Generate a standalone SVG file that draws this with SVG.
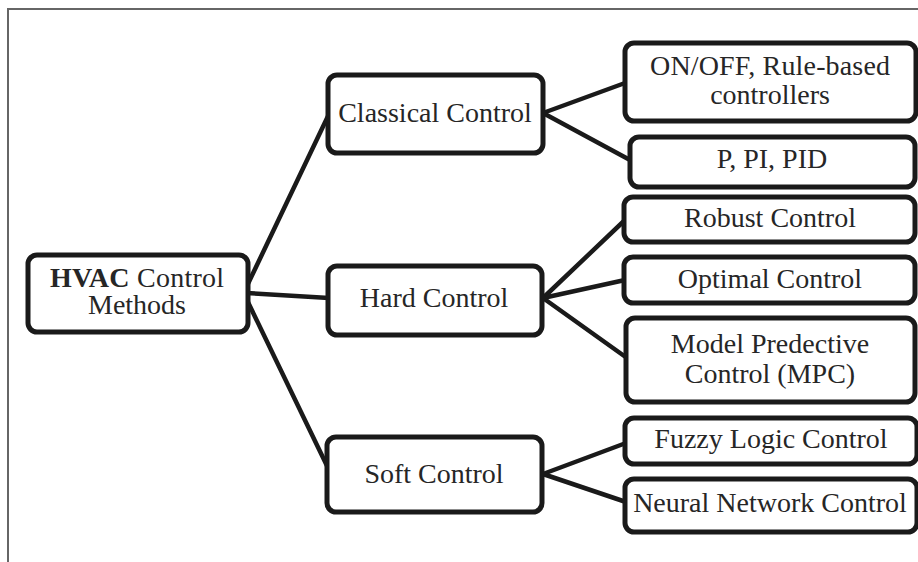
<svg xmlns="http://www.w3.org/2000/svg" width="918" height="562" viewBox="0 0 918 562">
<style>
.box{fill:#fff;stroke:#1a1a1a;stroke-width:5}
.t{font-family:'Liberation Serif','DejaVu Serif',serif;font-size:28px;fill:#262626;text-anchor:middle}
.c{stroke:#1a1a1a;stroke-width:4.5;fill:none;stroke-linecap:round}
.frame{stroke:#666;stroke-width:2;fill:none}
</style>
<rect width="918" height="562" fill="#fff"/>
<path class="frame" d="M8,562 V9 H918"/>
<g id="connectors">
<line class="c" x1="246" y1="288" x2="329" y2="114"/>
<line class="c" x1="246" y1="293" x2="329" y2="298"/>
<line class="c" x1="246" y1="298" x2="329" y2="470"/>
<line class="c" x1="543" y1="113" x2="625" y2="83"/>
<line class="c" x1="543" y1="113" x2="630" y2="160"/>
<line class="c" x1="543" y1="298" x2="625" y2="220"/>
<line class="c" x1="543" y1="298" x2="625" y2="280"/>
<line class="c" x1="543" y1="298" x2="627" y2="358"/>
<line class="c" x1="543" y1="474" x2="626" y2="443"/>
<line class="c" x1="543" y1="474" x2="626" y2="502"/>
</g>
<g id="hvac">
<rect class="box" x="28" y="255" width="220" height="77" rx="9"/>
<text class="t" font-family="Liberation Serif, serif" x="137" y="287" textLength="174"><tspan font-weight="bold">HVAC</tspan> Control</text>
<text class="t" font-family="Liberation Serif, serif" x="137" y="314">Methods</text>
</g>
<g id="classical">
<rect class="box" x="328" y="75" width="215" height="78" rx="9"/>
<text class="t" font-family="Liberation Serif, serif" x="435" y="122">Classical Control</text>
</g>
<g id="hard">
<rect class="box" x="328" y="266" width="214" height="69" rx="9"/>
<text class="t" font-family="Liberation Serif, serif" x="434" y="307">Hard Control</text>
</g>
<g id="soft">
<rect class="box" x="327" y="437" width="215" height="75" rx="9"/>
<text class="t" font-family="Liberation Serif, serif" x="434" y="483">Soft Control</text>
</g>
<g id="onoff">
<rect class="box" x="625" y="43" width="291" height="78" rx="9"/>
<text class="t" font-family="Liberation Serif, serif" x="770" y="75" textLength="240">ON/OFF, Rule-based</text>
<text class="t" font-family="Liberation Serif, serif" x="770" y="104">controllers</text>
</g>
<g id="pid">
<rect class="box" x="630" y="137" width="285" height="50" rx="9"/>
<text class="t" font-family="Liberation Serif, serif" x="772" y="168">P, PI, PID</text>
</g>
<g id="robust">
<rect class="box" x="624" y="197" width="291" height="45" rx="9"/>
<text class="t" font-family="Liberation Serif, serif" x="770" y="227">Robust Control</text>
</g>
<g id="optimal">
<rect class="box" x="624" y="257" width="291" height="46" rx="9"/>
<text class="t" font-family="Liberation Serif, serif" x="770" y="288">Optimal Control</text>
</g>
<g id="mpc">
<rect class="box" x="626" y="318" width="289" height="84" rx="9"/>
<text class="t" font-family="Liberation Serif, serif" x="770" y="353">Model Predective</text>
<text class="t" font-family="Liberation Serif, serif" x="770" y="383">Control (MPC)</text>
</g>
<g id="fuzzy">
<rect class="box" x="625" y="418" width="292" height="46" rx="9"/>
<text class="t" font-family="Liberation Serif, serif" x="771" y="448">Fuzzy Logic Control</text>
</g>
<g id="neural">
<rect class="box" x="625" y="479" width="292" height="53" rx="9"/>
<text class="t" font-family="Liberation Serif, serif" x="770" y="512">Neural Network Control</text>
</g>
</svg>
